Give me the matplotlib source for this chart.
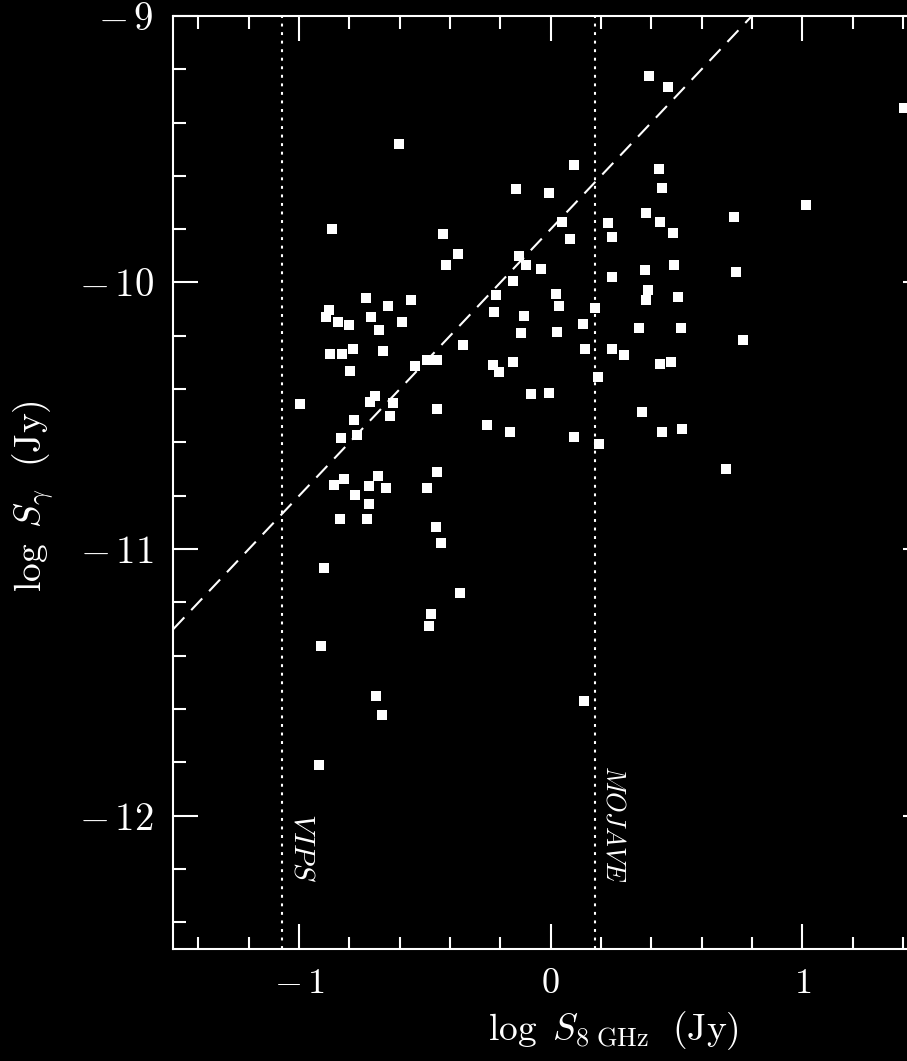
import matplotlib
matplotlib.use('Agg')
import matplotlib.pyplot as plt
import matplotlib.transforms as mtransforms
from matplotlib.ticker import MultipleLocator, FuncFormatter

plt.rcParams['mathtext.fontset'] = 'cm'
plt.rcParams['font.family'] = 'serif'
plt.rcParams['font.serif'] = ['cmr10', 'DejaVu Serif']

# log S_8GHz (Jy) y log S_gamma (Jy)
log_s8 = [-0.602, -0.868, -0.429, -0.367, -0.415, -0.735, -0.555, 0.389, 0.466, 1.404,
          0.091, -0.139, -0.008, 0.429, 0.443, 0.380, 0.435, 0.486, 0.729, 1.013,
          0.229, 0.244, 0.044, 0.078, -0.126, -0.099, -0.039, -0.150, 0.023, -0.216,
          0.244, 0.376, 0.489, 0.736, 0.386, 0.379, 0.506, -0.646, -0.880, -0.893,
          -0.845, -0.801, -0.714, -0.590, -0.683, -0.877, -0.830, -0.786, -0.665, -0.796,
          -0.539, -0.490, -0.453, -0.350, -0.225, -0.231, -0.204, -0.997, -0.699, -0.717,
          -0.628, -0.640, -0.453, -0.782, -0.832, -0.771, -0.255, -0.162, -0.820, -0.862,
          -0.686, -0.722, -0.656, -0.779, -0.721, -0.837, -0.730, -0.493, -0.451, -0.456,
          -0.437, -0.902, -0.362, -0.477, -0.484, 0.032, -0.105, -0.118, 0.026, 0.128,
          0.175, 0.352, 0.519, 0.764, 0.136, 0.245, 0.291, 0.435, 0.478, -0.149,
          0.187, -0.078, -0.008, 0.094, 0.193, 0.362, 0.441, 0.522, 0.697, -0.914,
          -0.695, -0.669, -0.919, 0.131]
log_sgamma = [-9.480, -9.798, -9.817, -9.892, -9.936, -10.057, -10.065, -9.226, -9.266, -9.344,
              -9.560, -9.650, -9.663, -9.574, -9.646, -9.740, -9.774, -9.813, -9.753, -9.708,
              -9.777, -9.828, -9.774, -9.837, -9.900, -9.936, -9.949, -9.994, -10.042, -10.047,
              -9.979, -9.954, -9.934, -9.959, -10.029, -10.065, -10.056, -10.087, -10.105, -10.128,
              -10.147, -10.158, -10.128, -10.149, -10.180, -10.270, -10.267, -10.251, -10.256, -10.331,
              -10.314, -10.291, -10.289, -10.234, -10.111, -10.311, -10.335, -10.454, -10.424, -10.450,
              -10.451, -10.502, -10.476, -10.516, -10.582, -10.572, -10.535, -10.560, -10.736, -10.759,
              -10.725, -10.762, -10.770, -10.796, -10.831, -10.886, -10.889, -10.771, -10.709, -10.919,
              -10.979, -11.070, -11.165, -11.244, -11.288, -10.089, -10.124, -10.190, -10.184, -10.155,
              -10.096, -10.171, -10.171, -10.216, -10.248, -10.248, -10.271, -10.306, -10.297, -10.299,
              -10.353, -10.417, -10.416, -10.581, -10.605, -10.484, -10.561, -10.550, -10.700, -11.365,
              -11.551, -11.624, -11.810, -11.570]

# limites de flujo de los surveys
surveys = ['VIPS', 'MOJAVE']
survey_limits = [-1.07, 0.176]
survey_fontsize = [21, 19]

# recta de correlacion
fit_slope = 1.0
fit_intercept = -9.8
fit_x = [-1.5, 0.8]

fig = plt.figure(figsize=(9.07, 10.61), dpi=100, facecolor='black')
ax = fig.add_axes([0.1911, 0.1056, 0.8321, 0.8794], facecolor='black')

ax.plot(log_s8, log_sgamma, ls='none', marker='s', ms=7.2, mfc='white', mec='white', mew=0)

ax.plot(fit_x, [fit_slope * x + fit_intercept for x in fit_x], color='white', lw=1.5,
        dashes=(7.7, 4.8))

for nombre, lim, fs in zip(surveys, survey_limits, survey_fontsize):
    ax.axvline(lim, color='white', lw=1.5, dashes=(1.4, 2.7))
    trans = mtransforms.offset_copy(ax.transData, fig=fig, x=5, y=0, units='points')
    ax.text(lim, -12.25, r'$\mathit{' + nombre + '}$', rotation=-90, color='white',
            fontsize=fs, ha='left', va='bottom', transform=trans)

ax.set_xlim(-1.5, 1.5)
ax.set_ylim(-12.5, -9)


def etiqueta(v, _):
    if v < 0:
        return r'$-\,%g$' % abs(v)
    return r'$%g$' % v


ax.xaxis.set_major_locator(MultipleLocator(1))
ax.xaxis.set_minor_locator(MultipleLocator(0.2))
ax.yaxis.set_major_locator(MultipleLocator(1))
ax.yaxis.set_minor_locator(MultipleLocator(0.2))
ax.xaxis.set_major_formatter(FuncFormatter(etiqueta))
ax.yaxis.set_major_formatter(FuncFormatter(etiqueta))

ax.tick_params(which='both', direction='in', top=True, right=True, colors='white', width=1.5)
ax.tick_params(which='major', length=18)
ax.tick_params(which='minor', length=9)
ax.tick_params(axis='y', pad=14, labelsize=28)
ax.tick_params(axis='x', pad=14, labelsize=26)
for s in ax.spines.values():
    s.set_color('white')
    s.set_linewidth(1.5)

ax.set_xlabel(r'$\log\ S_{8\ \mathrm{GHz}}\ \ (\mathrm{Jy})$', color='white', fontsize=27)
ax.set_ylabel(r'$\log\ S_{\gamma}\ \ (\mathrm{Jy})$', color='white', fontsize=27)
ax.xaxis.set_label_coords(0.5826, -0.064)
ax.yaxis.set_label_coords(-0.155, 0.485)

fig.savefig('out.png', dpi=100, facecolor='black')
